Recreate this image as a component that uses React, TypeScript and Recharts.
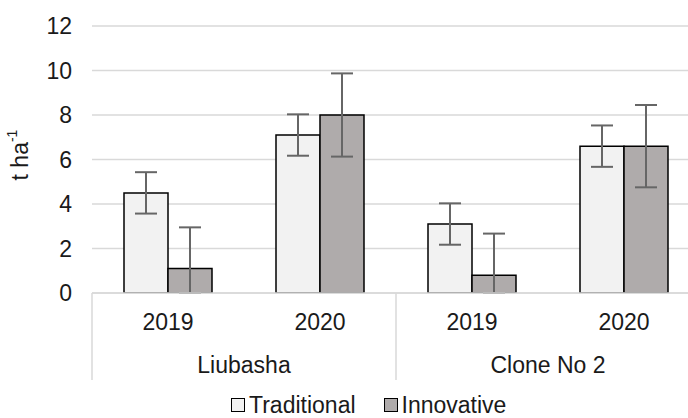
import { BarChart, Bar, XAxis, YAxis, CartesianGrid, ErrorBar, Legend } from 'recharts';

const years = ['2019', '2020', '2019', '2020'];
const groups = ['Liubasha', 'Liubasha', 'Clone No 2', 'Clone No 2'];
const traditional = [4.5, 7.1, 3.1, 6.6];
const traditionalErr = [0.93, 0.93, 0.93, 0.93];
const innovative = [1.1, 8.0, 0.8, 6.6];
const innovativeErr = [1.85, 1.87, 1.87, 1.85];
const yTicks = [0, 2, 4, 6, 8, 10, 12];

const seriesNames = ['Traditional', 'Innovative'];
const seriesFills = ['#f2f2f2', '#afabab'];

const data = years.map((year, i) => ({
    key: `${groups[i]}-${year}`,
    year,
    group: groups[i],
    traditional: traditional[i],
    traditionalErr: traditionalErr[i],
    innovative: innovative[i],
    innovativeErr: innovativeErr[i],
}));

// the plot stops at 0, so the lower whisker can't go past the axis
const clippedErr = (valueKey: string, errKey: string) => (d: any) => [Math.min(d[errKey], d[valueKey]), d[errKey]];

const FONT = '"Liberation Sans", Arial, sans-serif';
const GRID = '#d9d9d9';
const TEXT = '#1a1a1a';
const FS = 23;

// two-level category axis: year under each bar pair, variety under each pair of years
function CategoryTick(props: any) {
    const { x, y, payload, index } = props;
    const half = payload?.offset ?? 76;
    const row = data[index];
    const isGroupStart = index === 0 || data[index - 1].group !== row.group;
    const isLast = index === data.length - 1;
    return (
        <g>
            <text x={x} y={y + 37} textAnchor="middle" fontSize={FS} fill={TEXT} fontFamily={FONT}>
                {row.year}
            </text>
            {isGroupStart && (
                <>
                    <line x1={x - half} y1={y} x2={x - half} y2={y + 87} stroke={GRID} strokeWidth={1.5} />
                    <text x={x + half} y={y + 80} textAnchor="middle" fontSize={FS} fill={TEXT} fontFamily={FONT}>
                        {row.group}
                    </text>
                </>
            )}
            {isLast && <line x1={x + half} y1={y} x2={x + half} y2={y + 87} stroke={GRID} strokeWidth={1.5} />}
        </g>
    );
}

function YLabel() {
    return (
        <text
            x={20}
            y={155}
            transform="rotate(-90, 20, 155)"
            textAnchor="middle"
            dominantBaseline="central"
            fontSize={FS}
            fill={TEXT}
            fontFamily={FONT}
        >
            t ha<tspan dy={-8} fontSize={14}>-1</tspan>
        </text>
    );
}

function LegendContent() {
    return (
        <div style={{ display: 'flex', alignItems: 'center', fontFamily: FONT, fontSize: FS, color: TEXT, whiteSpace: 'nowrap', lineHeight: '24px' }}>
            {seriesNames.map((name, i) => (
                <div key={name} style={{ display: 'flex', alignItems: 'center', marginRight: 28 }}>
                    <span style={{ width: 12, height: 12, border: '1px solid #000', background: seriesFills[i], marginRight: 4 }} />
                    <span>{name}</span>
                </div>
            ))}
        </div>
    );
}

export default function App() {
    return (
        <div style={{ position: 'absolute', left: 0, top: 0, width: 688, height: 418, overflow: 'hidden', background: '#fff' }}>
            <BarChart
                width={720}
                height={418}
                data={data}
                margin={{ top: 26, right: 20, left: 0, bottom: 25 }}
                barGap={0}
                barCategoryGap={32}
            >
                <CartesianGrid vertical={false} stroke={GRID} strokeWidth={1.5} />
                <XAxis
                    dataKey="key"
                    height={100}
                    interval={0}
                    tickLine={false}
                    tickSize={0}
                    tickMargin={0}
                    axisLine={{ stroke: GRID, strokeWidth: 1.5 }}
                    tick={<CategoryTick />}
                />
                <YAxis
                    width={92}
                    domain={[0, 12]}
                    allowDataOverflow
                    ticks={yTicks}
                    interval={0}
                    axisLine={false}
                    tickLine={false}
                    tickSize={0}
                    tickMargin={20}
                    tick={{ fontSize: FS, fill: TEXT, fontFamily: FONT }}
                    label={{ content: <YLabel /> }}
                />
                <Legend
                    layout="horizontal"
                    verticalAlign="middle"
                    align="center"
                    content={<LegendContent />}
                    wrapperStyle={{ top: 393, left: 231, width: 'auto' }}
                />
                <Bar dataKey="traditional" name={seriesNames[0]} fill={seriesFills[0]} stroke="#000" strokeWidth={1.5} isAnimationActive={false}>
                    <ErrorBar dataKey={clippedErr('traditional', 'traditionalErr')} width={11} stroke="#666" strokeWidth={2} />
                </Bar>
                <Bar dataKey="innovative" name={seriesNames[1]} fill={seriesFills[1]} stroke="#000" strokeWidth={1.5} isAnimationActive={false}>
                    <ErrorBar dataKey={clippedErr('innovative', 'innovativeErr')} width={11} stroke="#666" strokeWidth={2} />
                </Bar>
            </BarChart>
        </div>
    );
}
